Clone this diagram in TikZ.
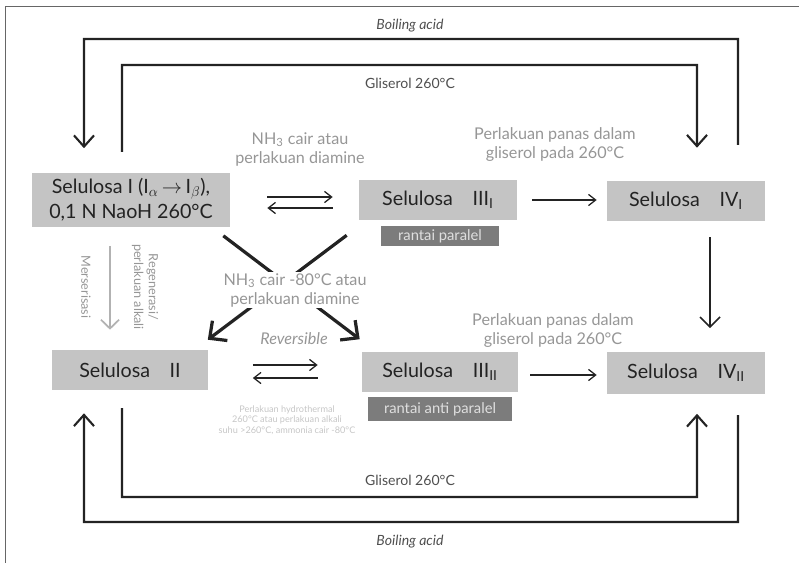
\documentclass[tikz,border=0pt]{standalone}
\usepackage{fontspec}
\setmainfont{Lato}
\usepackage{tikz}
\usetikzlibrary{arrows.meta}

\definecolor{boxgray}{RGB}{196,196,196}
\definecolor{taggray}{RGB}{124,124,124}
\definecolor{notegray}{RGB}{150,150,150}
\definecolor{ink}{RGB}{35,35,35}

\tikzset{
  selbox/.style={fill=boxgray, inner sep=0pt, text=ink, font=\fontsize{14}{18}\selectfont},
  tagbox/.style={fill=taggray, inner sep=0pt, text=gray!25, font=\fontsize{10.5}{12}\selectfont},
  note/.style={text=notegray, align=center, inner sep=1pt, font=\fontsize{11.5}{13.5}\selectfont},
  tiny/.style={text=gray!45, align=center, inner sep=0pt, font=\fontsize{6.5}{7.5}\selectfont},
  loopline/.style={ink, line width=1.5pt},
  looparrow/.style={loopline, -{Straight Barb[length=0.28cm, width=0.5cm, line width=1.5pt]}},
  eqarrow/.style={ink, line width=0.9pt, -{Straight Barb[length=0.18cm, width=0.28cm]}},
  crossarrow/.style={ink, line width=2.3pt, -{Straight Barb[length=0.32cm, width=0.62cm, line width=2.3pt]}},
}

\begin{document}
\begin{tikzpicture}[x=0.025cm, y=-0.025cm]
  % Define the frame of the page
  \useasboundingbox (0,0) rectangle (799,563);
  \draw[gray!80!black, line width=0.6pt] (799,6) -- (5,6) -- (5,563);

  % Selulosa boxes
  \node[selbox, minimum width=4.95cm, minimum height=1.325cm, align=center] (selI) at (131,200)
    {Selulosa I (I$_{\alpha}$\,$\rightarrow$\,I$_{\beta}$),\\0,1 N NaoH 260°C};
  \node[selbox, minimum width=3.95cm, minimum height=1cm] (selIIIi) at (438,200) {Selulosa\quad III\textsubscript{I}};
  \node[selbox, minimum width=3.95cm, minimum height=1cm] (selIVi) at (686,201) {Selulosa\quad IV\textsubscript{I}};
  \node[selbox, minimum width=3.875cm, minimum height=1cm] (selII) at (130,370) {Selulosa\quad II};
  \node[selbox, minimum width=3.9cm, minimum height=0.975cm] (selIIIii) at (440,372) {Selulosa\quad III\textsubscript{II}};
  \node[selbox, minimum width=3.95cm, minimum height=1.025cm] (selIVii) at (686,373) {Selulosa\quad IV\textsubscript{II}};

  % Chain tags
  \node[tagbox, minimum width=2.925cm, minimum height=0.475cm] (parI) at (440,236) {rantai paralel};
  \node[tagbox, minimum width=3.575cm, minimum height=0.6cm] (parII) at (440,409) {rantai anti paralel};

  % Equilibrium arrows
  \draw[eqarrow, shorten <=0.925cm, shorten >=0.65cm] ([yshift=0.075cm]selI.east) -- ([yshift=0.075cm]selI.east -| selIIIi.west);
  \draw[eqarrow, shorten <=0.65cm, shorten >=0.925cm] ([yshift=-0.2cm]selI.east -| selIIIi.west) -- ([yshift=-0.2cm]selI.east);
  \draw[eqarrow, shorten <=1.125cm, shorten >=1.1cm] ([yshift=0.125cm]selII.east) -- ([yshift=0.125cm]selII.east -| selIIIii.west);
  \draw[eqarrow, shorten <=1.1cm, shorten >=1.125cm] ([yshift=-0.2cm]selII.east -| selIIIii.west) -- ([yshift=-0.2cm]selII.east);

  % Forward arrows
  \draw[eqarrow, shorten <=0.375cm, shorten >=0.25cm] (selIIIi.east) -- (selIIIi.east -| selIVi.west);
  \draw[eqarrow, shorten <=0.3cm, shorten >=0.25cm] ([yshift=-0.075cm]selIIIii.east) -- ([yshift=-0.075cm]selIIIii.east -| selIVii.west);
  \draw[ink, line width=1.2pt, -{Straight Barb[length=0.25cm, width=0.5cm, line width=1.2pt]}, shorten <=0.4cm, shorten >=0.6cm]
    ([xshift=0.6cm]selIVi.south) -- ([xshift=0.6cm]selIVi.south |- selIVii.north);
  \draw[gray!60, line width=1.2pt, -{Straight Barb[length=0.22cm, width=0.45cm, line width=1.2pt]}, shorten <=0.475cm, shorten >=0.5cm]
    ([xshift=-0.525cm]selI.south) -- ([xshift=-0.525cm]selI.south |- selII.north);

  % The crossing arrows
  \draw[crossarrow] ([xshift=-0.175cm, yshift=-0.225cm]selI.south east) -- ([xshift=-0.05cm, yshift=0.325cm]selIIIii.north west);
  \draw[crossarrow] ([xshift=-0.3cm, yshift=-0.375cm]selIIIi.south west) -- ([yshift=0.25cm]selII.north east);

  % Loop corners
  \coordinate (boilTopR) at (738,145);
  \coordinate (glisTopL) at (122,152);
  \coordinate (boilBotR) at (738,415);
  \coordinate (glisBotL) at (122,408);

  % Boiling acid and gliserol loops
  \draw[looparrow, shorten >=0.625cm] (boilTopR) -- (738,39) -- (84,39) -- ([xshift=-1.175cm]selI.north);
  \draw[looparrow, shorten >=0.825cm] (glisTopL) -- (122,65) -- (697,65) -- ([xshift=0.275cm]selIVi.north);
  \draw[looparrow, shorten >=0.575cm] (boilBotR) -- (738,522) -- (84,522) -- ([xshift=-1.15cm]selII.south);
  \draw[looparrow, shorten >=0.5cm] (glisBotL) -- (122,497) -- (697,497) -- ([xshift=0.275cm]selIVii.south);

  % Loop labels
  \node[text=ink!80, font=\fontsize{10}{12}\selectfont\itshape] (boilTop) at (410,26) {Boiling acid};
  \node[text=ink!80, font=\fontsize{10}{12}\selectfont] (glisTop) at (410,83) {Gliserol 260°C};
  \node[text=ink!80, font=\fontsize{10}{12}\selectfont] (glisBot) at (410,480) {Gliserol 260°C};
  \node[text=ink!80, font=\fontsize{10}{12}\selectfont\itshape] (boilBot) at (410,542) {Boiling acid};

  % Process notes
  \node[note] (nhTop) at (300,149) {NH\textsubscript{3} cair atau\\perlakuan diamine};
  \node[note] (panTop) at (555,145) {Perlakuan panas dalam\\gliserol pada 260°C};
  \node[note, fill=white] (nhCross) at (295,290) {NH\textsubscript{3} cair -80°C atau\\perlakuan diamine};
  \node[note, font=\fontsize{11.5}{13}\selectfont\itshape] (revers) at (294,339) {Reversible};
  \node[note] (panBot) at (553,331) {Perlakuan panas dalam\\gliserol pada 260°C};
  \node[tiny] (hydro) at (287,420) {Perlakuan hydrothermal\\260°C atau perlakuan alkali\\suhu >260°C, ammonia cair -80°C};
  \node[note, rotate=-90, font=\fontsize{9}{10.5}\selectfont] (merser) at (86,287) {Merserisasi};
  \node[note, rotate=-90, font=\fontsize{9}{10.5}\selectfont] (regen) at (145,287) {Regenerasi/\\perlakuan alkali};
\end{tikzpicture}
\end{document}
